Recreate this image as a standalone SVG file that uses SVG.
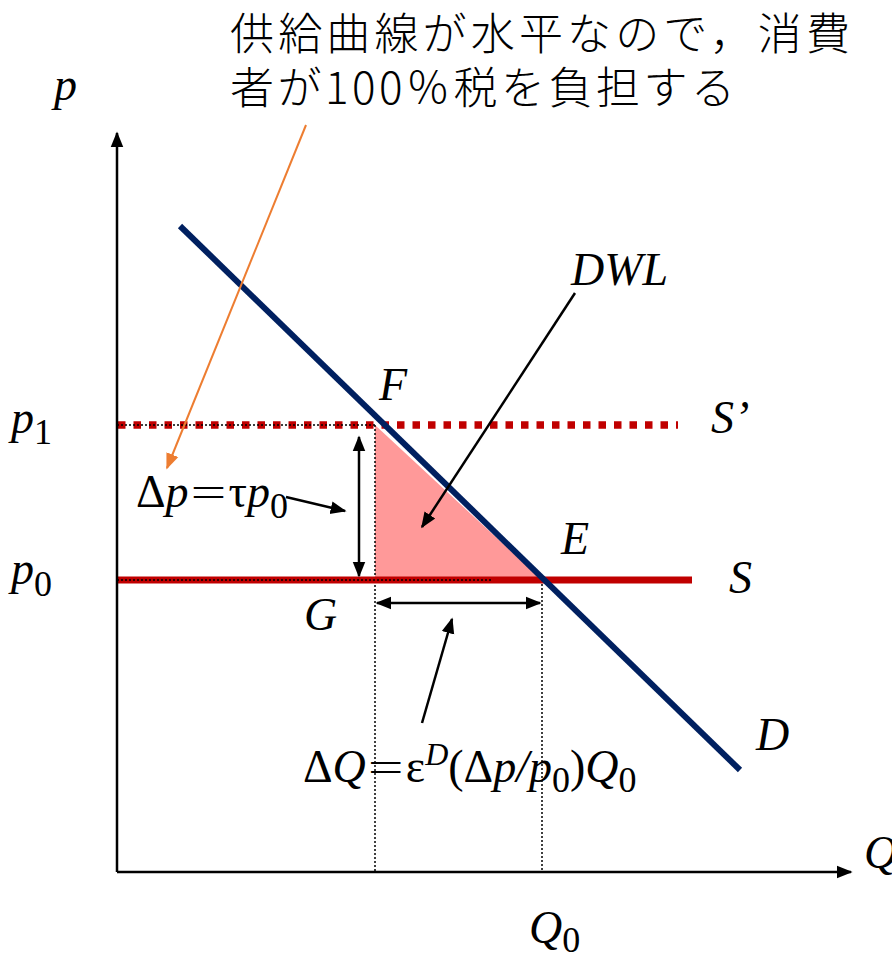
<svg xmlns="http://www.w3.org/2000/svg" width="892" height="960" viewBox="0 0 892 960">
<defs>
<marker id="ahb" viewBox="0 0 10 10" refX="9" refY="5" markerWidth="16" markerHeight="16" orient="auto-start-reverse" markerUnits="userSpaceOnUse"><path d="M0,1 L10,5 L0,9 z" fill="#000"/></marker>
<marker id="aho" viewBox="0 0 10 10" refX="9" refY="5" markerWidth="16" markerHeight="16" orient="auto" markerUnits="userSpaceOnUse"><path d="M0,1 L10,5 L0,9 z" fill="#ED7D31"/></marker>
</defs>
<style>
.t{font-family:"Liberation Serif","Times New Roman","DejaVu Serif",serif;font-style:italic;font-size:46px;fill:#000}
.n{font-style:normal}
.eq{font-family:"Noto Sans CJK JP",sans-serif;font-style:normal;font-size:40px;font-weight:300}
.sub{font-style:normal;font-size:36px}
.jp{font-family:"Noto Sans CJK JP","Noto Sans",sans-serif;font-size:44px;font-weight:300;fill:#000}
.dot{stroke:#000;stroke-width:1.5;stroke-dasharray:2 2;fill:none}
.ar{stroke:#000;stroke-width:2.5;fill:none}
</style>
<rect width="892" height="960" fill="#fff"/>

<g id="area-dwl">
<polygon points="375,425 375,580 542,580" fill="#FF9999"/>
</g>

<g id="guides">
<line class="dot" x1="375" y1="425" x2="375" y2="872"/>
<line class="dot" x1="542" y1="580" x2="542" y2="872"/>
</g>

<g id="supply-S">
<line x1="117" y1="580" x2="692" y2="580" stroke="#C00000" stroke-width="7"/>
<line class="dot" x1="117" y1="580" x2="492" y2="580"/>
</g>
<g id="supply-S-prime">
<line x1="118" y1="425" x2="678" y2="425" stroke="#C00000" stroke-width="7.5" stroke-dasharray="7.5 8"/>
<line class="dot" x1="117" y1="425" x2="375" y2="425"/>
</g>
<g id="demand-D">
<line x1="180" y1="226" x2="740" y2="770" stroke="#002060" stroke-width="6"/>
</g>

<g id="axes">
<line x1="117" y1="872" x2="117" y2="133" stroke="#000" stroke-width="2.5" marker-end="url(#ahb)"/>
<line x1="117" y1="872" x2="851" y2="872" stroke="#000" stroke-width="2.5" marker-end="url(#ahb)"/>
</g>

<g id="connectors">
<line class="ar" x1="359" y1="437" x2="359" y2="576" marker-start="url(#ahb)" marker-end="url(#ahb)"/>
<line class="ar" x1="377" y1="603" x2="540" y2="603" marker-start="url(#ahb)" marker-end="url(#ahb)"/>
<line class="ar" x1="286" y1="497" x2="345" y2="511" marker-end="url(#ahb)"/>
<line class="ar" x1="575" y1="293" x2="422" y2="527" marker-end="url(#ahb)"/>
<line class="ar" x1="422" y1="723" x2="452" y2="619" marker-end="url(#ahb)"/>
<line x1="306" y1="125" x2="167" y2="468" stroke="#ED7D31" stroke-width="2" marker-end="url(#aho)"/>
</g>

<g id="labels">
<text class="t" x="54" y="100">p</text>
<text class="t" x="11" y="433">p<tspan class="sub" dy="11">1</tspan></text>
<text class="t" x="11" y="584">p<tspan class="sub" dy="12">0</tspan></text>
<text class="t" x="379" y="400">F</text>
<text class="t" x="711" y="433">S’</text>
<text class="t" x="561" y="554">E</text>
<text class="t" x="729" y="593">S</text>
<text class="t" x="304" y="630">G</text>
<text class="t" x="756" y="750">D</text>
<text class="t" x="864" y="868">Q</text>
<text class="t" x="529" y="943">Q<tspan class="sub" dy="9">0</tspan></text>
<text class="t" x="571" y="285">DWL</text>
<text class="t" x="136" y="507"><tspan class="n">Δ</tspan>p<tspan class="eq">＝</tspan><tspan class="n">τ</tspan>p<tspan class="sub" dy="11">0</tspan></text>
<text class="t" x="303" y="782"><tspan class="n">Δ</tspan>Q<tspan class="eq">＝</tspan><tspan class="n">ε</tspan><tspan font-size="32" dy="-17">D</tspan><tspan class="n" dy="17">(Δ</tspan>p/p<tspan class="sub" dy="10">0</tspan><tspan class="n" dy="-10">)</tspan>Q<tspan class="sub" dy="10">0</tspan></text>
<text class="jp" x="230" y="50" textLength="620" lengthAdjust="spacing">供給曲線が水平なので，消費</text>
<text class="jp" x="230" y="104" textLength="505" lengthAdjust="spacing">者が100％税を負担する</text>
</g>
</svg>
